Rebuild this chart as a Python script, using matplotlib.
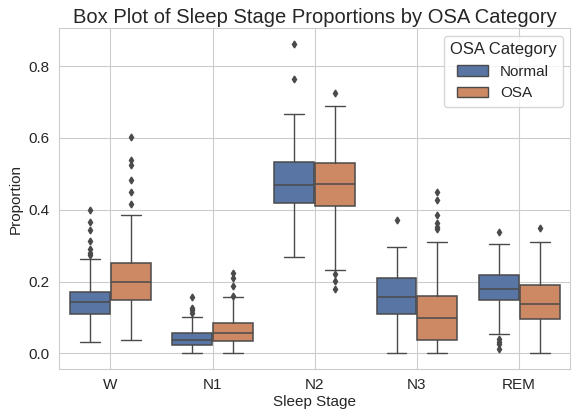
import matplotlib
matplotlib.use('Agg')
import matplotlib.pyplot as plt
from matplotlib.patches import Patch
import seaborn as sns

# Sleep stages and OSA groups
STAGES = ["W", "N1", "N2", "N3", "REM"]
GROUPS = ["Normal", "OSA"]

# box stats: (whislo, q1, med, q3, whishi)
NORMAL_STATS = [
    (0.031, 0.109, 0.142, 0.171, 0.263),
    (0.000, 0.024, 0.036, 0.056, 0.101),
    (0.268, 0.419, 0.468, 0.532, 0.667),
    (0.000, 0.109, 0.156, 0.209, 0.296),
    (0.055, 0.149, 0.180, 0.218, 0.305),
]
OSA_STATS = [
    (0.036, 0.149, 0.200, 0.252, 0.385),
    (0.000, 0.035, 0.056, 0.084, 0.156),
    (0.233, 0.411, 0.471, 0.530, 0.690),
    (0.000, 0.038, 0.099, 0.160, 0.309),
    (0.002, 0.096, 0.138, 0.190, 0.311),
]
NORMAL_FLIERS = [
    [0.400, 0.365, 0.344, 0.313, 0.290, 0.280, 0.273],
    [0.157, 0.127, 0.120, 0.112],
    [0.862, 0.764],
    [0.372],
    [0.339, 0.040, 0.032, 0.025, 0.011],
]
OSA_FLIERS = [
    [0.602, 0.539, 0.525, 0.482, 0.450, 0.416],
    [0.223, 0.210, 0.187, 0.161],
    [0.726, 0.222, 0.202, 0.179],
    [0.450, 0.427, 0.385, 0.364, 0.353, 0.346],
    [0.349],
]

sns.set_style("whitegrid")
plt.rcParams['font.family'] = ['Liberation Sans', 'DejaVu Sans']

colors = [sns.desaturate("#4C72B0", 0.75), sns.desaturate("#DD8452", 0.75)]
line_col = "#4a4a4a"


def make_stats(stats, fliers):
    out = []
    for (lo, q1, med, q3, hi), fl in zip(stats, fliers):
        out.append(dict(whislo=lo, q1=q1, med=med, q3=q3, whishi=hi, fliers=fl))
    return out


fig, ax = plt.subplots(figsize=(5.76, 4.12), dpi=100)

for k, (stats, fliers) in enumerate([(NORMAL_STATS, NORMAL_FLIERS), (OSA_STATS, OSA_FLIERS)]):
    pos = [i - 0.2 + 0.4 * k for i in range(len(STAGES))]
    ax.bxp(make_stats(stats, fliers), positions=pos, widths=0.39, patch_artist=True,
           showfliers=True,
           boxprops=dict(facecolor=colors[k], edgecolor=line_col, linewidth=1.1),
           medianprops=dict(color=line_col, linewidth=1.1),
           whiskerprops=dict(color=line_col, linewidth=1.0),
           capprops=dict(color=line_col, linewidth=1.0),
           flierprops=dict(marker='d', markersize=3.5, markerfacecolor=line_col,
                           markeredgecolor=line_col, linestyle='none'))

ax.set_xticks(range(len(STAGES)))
ax.set_xticklabels(STAGES)
ax.set_xlim(-0.5, len(STAGES) - 0.5)
ax.set_ylim(-0.043, 0.905)
ax.set_yticks([0.0, 0.2, 0.4, 0.6, 0.8])
ax.tick_params(labelsize=11)
ax.set_xlabel("Sleep Stage", fontsize=11, labelpad=2)
ax.set_ylabel("Proportion", fontsize=11)
ax.set_title("Box Plot of Sleep Stage Proportions by OSA Category", fontsize=14.5, pad=4)

handles = [Patch(facecolor=colors[k], edgecolor=line_col, label=GROUPS[k]) for k in range(2)]
ax.legend(handles=handles, title="OSA Category", loc='upper right', fontsize=11,
          title_fontsize=12)

plt.subplots_adjust(left=0.103, right=0.99, top=0.931, bottom=0.105)
plt.savefig("out.png", dpi=100)
